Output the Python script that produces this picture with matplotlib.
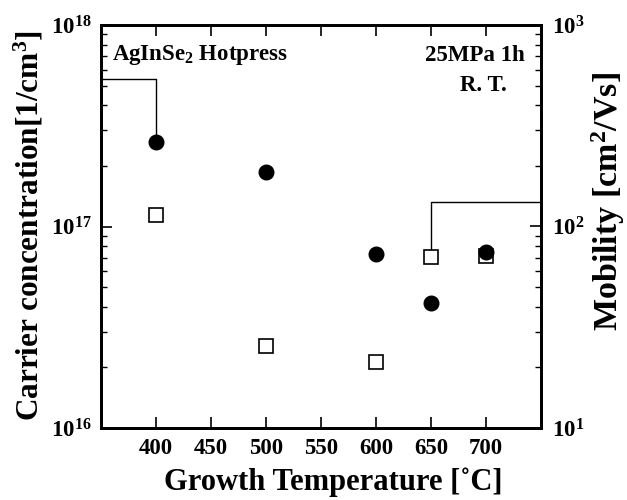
import matplotlib
matplotlib.use("Agg")
import matplotlib.pyplot as plt
from matplotlib.ticker import LogLocator, NullFormatter, FixedLocator

plt.rcParams['font.family'] = ['Liberation Serif', 'DejaVu Serif']
plt.rcParams['font.weight'] = 'bold'
plt.rcParams['mathtext.fontset'] = 'custom'
plt.rcParams['mathtext.rm'] = 'Liberation Serif:bold'
plt.rcParams['mathtext.it'] = 'Liberation Serif:bold'
plt.rcParams['mathtext.bf'] = 'Liberation Serif:bold'

temps = [400, 500, 600, 650, 700]
carrier = [2.62e17, 1.86e17, 7.3e16, 4.16e16, 7.45e16]
mobility = [114, 25.6, 21.3, 70.8, 71.5]
xticks = [400, 450, 500, 550, 600, 650, 700]

# indicator lines (data coordinates)
left_line_x = [350, 400, 400]
left_line_y = [5.4e17, 5.4e17, 2.85e17]
right_line_x = [750, 650, 650]
right_line_y = [132, 132, 76]

fig = plt.figure(figsize=(6.27, 5.0), dpi=100)
ax = fig.add_axes([101/627, 1-428/500, 440/627, 403/500])
ax2 = ax.twinx()

ax.set_xlim(350, 750)
ax.set_yscale('log')
ax.set_ylim(1e16, 1e18)
ax2.set_yscale('log')
ax2.set_ylim(10, 1000)

ax2.plot(temps, mobility, linestyle='none', marker='s', markersize=9.5,
         markerfacecolor='white', markeredgecolor='black', markeredgewidth=1.2, zorder=3)
ax2.plot(right_line_x, right_line_y, color='black', lw=1.0, zorder=2)
ax.plot(left_line_x, left_line_y, color='black', lw=1.0, zorder=2)
ax.set_zorder(ax2.get_zorder() + 1)
ax.patch.set_visible(False)
ax.plot(temps, carrier, linestyle='none', marker='o', markersize=10.5,
        markerfacecolor='black', markeredgecolor='black', zorder=4)

ax.xaxis.set_major_locator(FixedLocator(xticks))
ax.set_xticklabels([str(t) for t in xticks])

for a in (ax, ax2):
    a.yaxis.set_major_locator(LogLocator(base=10, numticks=10))
    a.yaxis.set_minor_locator(LogLocator(base=10, subs=range(2, 10), numticks=20))
    a.yaxis.set_minor_formatter(NullFormatter())
    a.tick_params(which='major', direction='in', length=8, width=1.2, labelsize=16.5)
    a.tick_params(which='minor', direction='in', length=4.5, width=1.0)
    for s in a.spines.values():
        s.set_linewidth(2.0)

ax.tick_params(axis='x', top=True, pad=7)
ax.tick_params(axis='y', pad=7)
ax2.tick_params(axis='y', pad=8)

ax.set_xlabel('Growth Temperature [\u02daC]', fontsize=22, fontweight='bold')
ax.xaxis.set_label_coords(0.528, -0.097)
ax.set_ylabel('Carrier concentration[1/cm$^3$]', fontsize=22.5, fontweight='bold')
ax.yaxis.set_label_coords(-0.127, 0.502)
ax2.set_ylabel('Mobility [cm$^2$/Vs]', fontsize=24.5, fontweight='bold', rotation=90)
ax2.yaxis.set_label_coords(1.111, 0.563)

ax.text(0.025, 0.926, 'AgInSe$_2$ Hotpress', transform=ax.transAxes, fontsize=16.5,
        fontweight='bold', ha='left', va='center')
ax.text(0.964, 0.925, '25MPa 1h', transform=ax.transAxes, fontsize=16.5,
        fontweight='bold', ha='right', va='center')
ax.text(0.870, 0.851, 'R. T.', transform=ax.transAxes, fontsize=16.5,
        fontweight='bold', ha='center', va='center')

fig.savefig('out.png', dpi=100)
